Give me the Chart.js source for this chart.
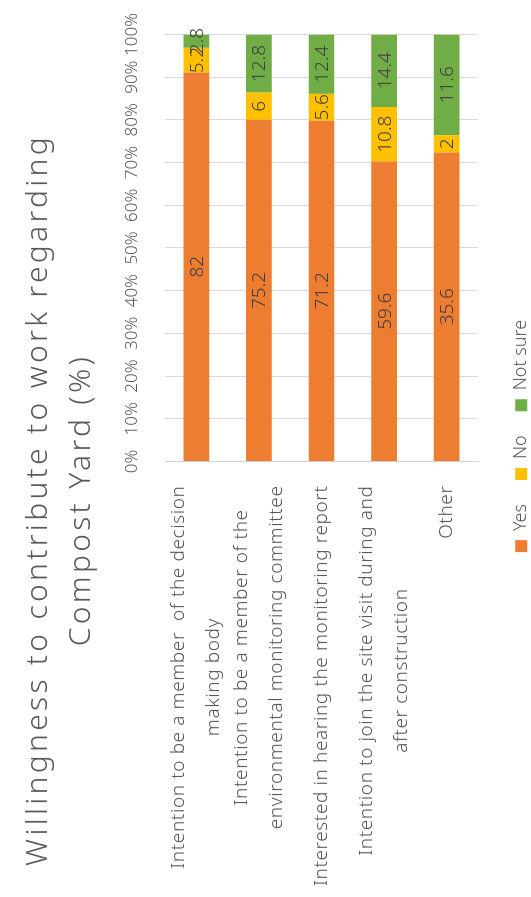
<!DOCTYPE html>
<html>
<head>
<meta charset="utf-8">
<script src="https://cdn.jsdelivr.net/npm/chart.js@4.4.1/dist/chart.umd.min.js"></script>
<style>
  html, body { margin: 0; padding: 0; background: #fff; overflow: hidden; }
  body { width: 531px; height: 897px; position: relative; }
  /* chart is laid out landscape, then turned to match the portrait picture */
  #wrap {
    position: absolute; left: 0; top: 0;
    width: 897px; height: 531px;
    transform-origin: 0 0;
    transform: translate(0, 897px) rotate(-90deg);
  }
</style>
</head>
<body>
<div id="wrap"><canvas id="chart" width="897" height="531"></canvas></div>
<script>
const chartTitle = ['Willingness to contribute to work regarding', 'Compost Yard (%)']
const categories = [
  ['Intention to be a member  of the decision', 'making body'],
  ['Intention to be a member of the', 'environmental monitoring committee'],
  ['Interested in hearing the monitoring report'],
  ['Intention to join the site visit during and', 'after construction'],
  ['Other'],
]
const seriesNames = ['Yes', 'No', 'Not sure']
const yesValues = [82, 75.2, 71.2, 59.6, 35.6]
const noValues = [5.2, 6, 5.6, 10.8, 2]
const notSureValues = [2.8, 12.8, 12.4, 14.4, 11.6]
const percentTicks = ['0%', '10%', '20%', '30%', '40%', '50%', '60%', '70%', '80%', '90%', '100%']

const colors = ['#ED7D31', '#FFC000', '#70AD47']
const FONT = '"Noto Sans", "DejaVu Sans", sans-serif'
const TEXT = '#595959'

// 100% stacked: each bar is scaled to its own total
const rawSeries = [yesValues, noValues, notSureValues]
const totals = yesValues.map((v, i) => v + noValues[i] + notSureValues[i])

const titlePlugin = {
  id: 'rotTitle',
  afterDraw(chart) {
    const ctx = chart.ctx
    ctx.save()
    ctx.font = '300 30px ' + FONT
    ctx.fillStyle = TEXT
    ctx.textAlign = 'center'
    ctx.textBaseline = 'middle'
    ctx.letterSpacing = '3.3px'
    ctx.fillText(chartTitle[0], 397, 38)
    ctx.fillText(chartTitle[1], 397, 81)
    ctx.restore()
  },
}

// category labels: block right-aligned to the axis, lines centred in the block
const categoryLabels = {
  id: 'catLabels',
  afterDraw(chart) {
    const ctx = chart.ctx
    const scale = chart.scales.y
    ctx.save()
    ctx.font = '300 19px ' + FONT
    ctx.fillStyle = TEXT
    ctx.textAlign = 'center'
    ctx.textBaseline = 'middle'
    ctx.letterSpacing = '0.6px'
    const right = scale.right - 24
    categories.forEach((lines, i) => {
      const widest = Math.max(...lines.map((l) => ctx.measureText(l).width))
      const cy = scale.getPixelForTick(i)
      lines.forEach((line, j) => {
        ctx.fillText(line, right - widest / 2, cy + (j - (lines.length - 1) / 2) * 35)
      })
    })
    ctx.restore()
  },
}

const valueLabels = {
  id: 'valueLabels',
  afterDatasetsDraw(chart) {
    const ctx = chart.ctx
    ctx.save()
    ctx.font = '300 19px ' + FONT
    ctx.fillStyle = '#404040'
    ctx.textAlign = 'center'
    ctx.textBaseline = 'middle'
    chart.data.datasets.forEach((ds, d) => {
      chart.getDatasetMeta(d).data.forEach((bar, i) => {
        const { x, y, base } = bar.getProps(['x', 'y', 'base'], true)
        ctx.fillText(String(rawSeries[d][i]), (x + base) / 2, y + 1)
      })
    })
    ctx.restore()
  },
}

new Chart(document.getElementById('chart'), {
  type: 'bar',
  data: {
    labels: categories,
    datasets: rawSeries.map((values, d) => ({
      label: seriesNames[d],
      data: values.map((v, i) => (v / totals[i]) * 100),
      backgroundColor: colors[d],
      borderWidth: 0,
      barPercentage: 0.41,
      categoryPercentage: 1,
    })),
  },
  options: {
    indexAxis: 'y',
    responsive: false,
    animation: false,
    layout: { padding: { top: 121.6, right: 34.5, left: 59.5, bottom: -9.2 } },
    scales: {
      x: {
        position: 'top',
        stacked: true,
        min: 0,
        max: 100,
        ticks: {
          stepSize: 10,
          autoSkip: false,
          maxRotation: 0,
          padding: 0,
          color: TEXT,
          font: { family: FONT, size: 17, weight: 300 },
          callback: (v, i) => percentTicks[i],
        },
        // invisible tick marks keep the labels clear of the plot
        grid: { color: '#d9d9d9', drawTicks: true, tickLength: 23, tickColor: 'rgba(0,0,0,0)' },
        border: { display: false },
      },
      y: {
        stacked: true,
        ticks: { display: false },
        grid: { display: false },
        border: { display: true, color: '#d0d0d0' },
        afterFit: (scale) => { scale.width = 376 },
      },
    },
    plugins: {
      title: { display: false },
      tooltip: { enabled: false },
      legend: {
        position: 'bottom',
        title: { display: true, text: '', padding: { top: 9, bottom: 0 }, font: { size: 1 } },
        labels: {
          boxWidth: 12,
          boxHeight: 12,
          padding: 24,
          color: TEXT,
          font: { family: FONT, size: 18, weight: 300 },
        },
      },
    },
  },
  plugins: [titlePlugin, categoryLabels, valueLabels],
})
</script>
</body>
</html>
